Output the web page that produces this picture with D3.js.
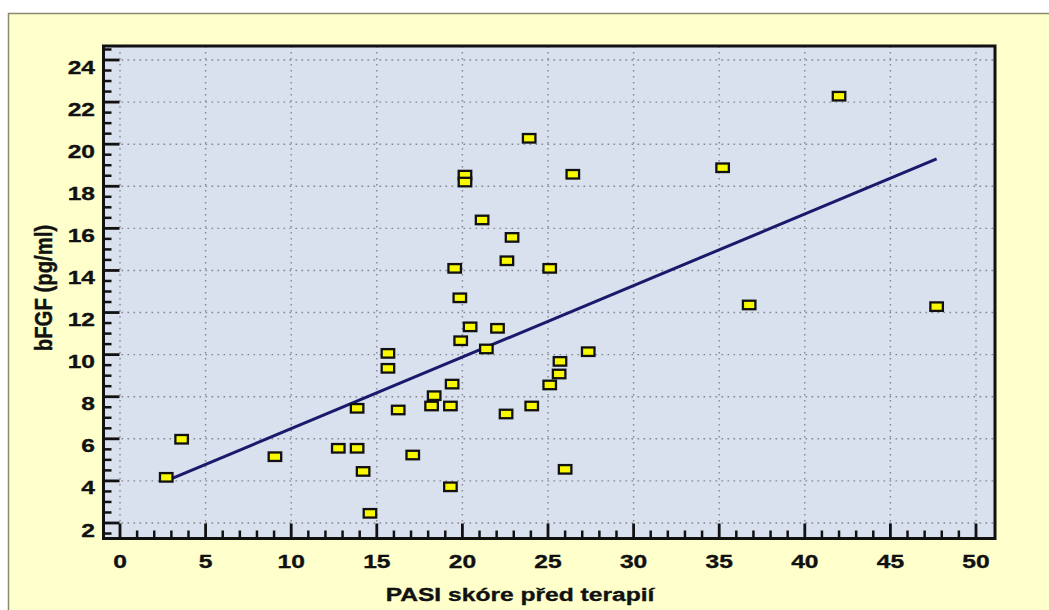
<!DOCTYPE html>
<html>
<head>
<meta charset="utf-8">
<script src="https://cdn.jsdelivr.net/npm/d3@7"></script>
<style>
  html, body { margin: 0; padding: 0; background: #ffffff; }
  svg { display: block; }
  text { font-family: "Liberation Sans", Arial, Helvetica, sans-serif; font-weight: bold; fill: #111; stroke: #111; stroke-width: 0.35; }
</style>
</head>
<body>
<svg id="chart" width="1049" height="610"></svg>
<script>
// PASI score before therapy vs. bFGF concentration
const pasi = [2.7, 3.6, 9.05, 12.75, 13.85, 13.85, 14.2, 14.6, 15.65, 15.65,
              16.25, 17.1, 18.2, 18.35, 19.3, 19.4, 19.55, 19.85, 19.3, 20.15,
              20.15, 19.9, 20.45, 21.15, 21.4, 22.05, 22.55, 22.6, 22.9, 23.9,
              24.05, 25.1, 25.1, 25.65, 25.7, 26.0, 26.45, 27.35, 35.2, 36.75,
              42.0, 47.7];
const bfgf = [4.17, 5.98, 5.15, 5.55, 5.55, 7.45, 4.45, 2.46, 10.06, 9.35,
              7.37, 5.23, 7.56, 8.05, 7.56, 8.6, 14.1, 12.7, 3.72, 18.53,
              18.2, 10.66, 11.32, 16.4, 10.27, 11.25, 7.18, 14.46, 15.57, 20.28,
              7.56, 14.1, 8.56, 9.08, 9.68, 4.55, 18.57, 10.14, 18.88, 12.36,
              22.28, 12.28];

// regression line end points
const fitX = [2.7, 47.7];
const fitY = [4.0, 19.3];

const xTicks = [0, 5, 10, 15, 20, 25, 30, 35, 40, 45, 50];
const yTicks = [2, 4, 6, 8, 10, 12, 14, 16, 18, 20, 22, 24];
const xTitle = "PASI skóre před terapií";
const yTitle = "bFGF (pg/ml)";

const svg = d3.select("#chart");
const stretch = 1.33; // horizontal widening of the lettering

const frame = { left: 103.5, top: 46, right: 995, bottom: 538.5 };

const x = d3.scaleLinear().domain([0, 50]).range([120, 976]);
const y = d3.scaleLinear().domain([2, 24]).range([523, 60]);

// outer panel
svg.append("rect")
  .attr("x", 8.5).attr("y", 13.5)
  .attr("width", 1100).attr("height", 700)
  .attr("fill", "#ffffcc")
  .attr("stroke", "#8a8a70").attr("stroke-width", 1.5);

// plot background
svg.append("rect")
  .attr("x", frame.left).attr("y", frame.top)
  .attr("width", frame.right - frame.left).attr("height", frame.bottom - frame.top)
  .attr("fill", "#d9e0ee");

// dotted grid
const grid = svg.append("g")
  .attr("stroke", "#85858f").attr("stroke-width", 1.4)
  .attr("stroke-dasharray", "1.6,4.4");
grid.selectAll("line.gx").data(xTicks).join("line")
  .attr("class", "gx")
  .attr("x1", d => x(d)).attr("x2", d => x(d))
  .attr("y1", frame.top).attr("y2", frame.bottom);
grid.selectAll("line.gy").data(yTicks).join("line")
  .attr("class", "gy")
  .attr("y1", d => y(d)).attr("y2", d => y(d))
  .attr("x1", frame.left).attr("x2", frame.right);

// minor and major ticks pointing into the plot
const xMinor = d3.range(0, 51, 1).filter(v => v % 5 !== 0);
const yMinor = d3.range(1.5, 24.6, 0.5).filter(v => v % 2 !== 0);
const ticks = svg.append("g").attr("stroke", "#111");
ticks.selectAll("line.xmin").data(xMinor).join("line")
  .attr("class", "xmin").attr("stroke-width", 2.5)
  .attr("x1", d => x(d)).attr("x2", d => x(d))
  .attr("y1", frame.bottom).attr("y2", frame.bottom - 8);
ticks.selectAll("line.xmaj").data(xTicks).join("line")
  .attr("class", "xmaj").attr("stroke-width", 2.8)
  .attr("x1", d => x(d)).attr("x2", d => x(d))
  .attr("y1", frame.bottom).attr("y2", frame.bottom - 15);
ticks.selectAll("line.ymin").data(yMinor).join("line")
  .attr("class", "ymin").attr("stroke-width", 2.5)
  .attr("y1", d => y(d)).attr("y2", d => y(d))
  .attr("x1", frame.left).attr("x2", frame.left + 8);
ticks.selectAll("line.ymaj").data(yTicks).join("line")
  .attr("class", "ymaj").attr("stroke-width", 2.8)
  .attr("y1", d => y(d)).attr("y2", d => y(d))
  .attr("x1", frame.left).attr("x2", frame.left + 16);

// plot frame
svg.append("rect")
  .attr("x", frame.left).attr("y", frame.top)
  .attr("width", frame.right - frame.left).attr("height", frame.bottom - frame.top)
  .attr("fill", "none").attr("stroke", "#111").attr("stroke-width", 3);

// tick labels
svg.append("g").selectAll("text").data(xTicks).join("text")
  .attr("transform", d => `translate(${x(d)},568) scale(${stretch},1)`)
  .attr("text-anchor", "middle")
  .attr("font-size", 18.5)
  .text(d => d);
svg.append("g").selectAll("text").data(yTicks).join("text")
  .attr("transform", d => `translate(95,${y(d) + 13.5}) scale(${stretch},1)`)
  .attr("text-anchor", "end")
  .attr("font-size", 18.5)
  .text(d => d);

// axis titles
svg.append("text")
  .attr("transform", `translate(520,601) scale(${stretch},1)`)
  .attr("text-anchor", "middle")
  .attr("font-size", 18.5)
  .text(xTitle);
svg.append("text")
  .attr("transform", `translate(52,288) rotate(-90) scale(1.1,${stretch})`)
  .attr("text-anchor", "middle")
  .attr("font-size", 18.5)
  .text(yTitle);

// regression line
svg.append("line")
  .attr("x1", x(fitX[0])).attr("y1", y(fitY[0]))
  .attr("x2", x(fitX[1])).attr("y2", y(fitY[1]))
  .attr("stroke", "#1a1a6c").attr("stroke-width", 3);

// data markers
const pts = pasi.map((v, i) => ({ px: v, py: bfgf[i] }));
const mw = 12.5, mh = 8.5;
svg.append("g").selectAll("rect").data(pts).join("rect")
  .attr("x", d => x(d.px) - mw / 2)
  .attr("y", d => y(d.py) - mh / 2)
  .attr("width", mw).attr("height", mh)
  .attr("fill", "#f8f800")
  .attr("stroke", "#111").attr("stroke-width", 2.3);
</script>
</body>
</html>
